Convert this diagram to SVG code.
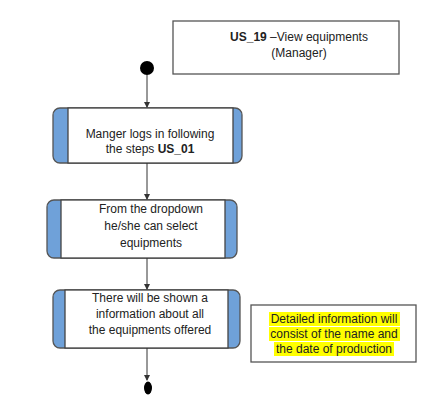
<svg xmlns="http://www.w3.org/2000/svg" width="439" height="411" viewBox="0 0 439 411">
<defs>
<style>
.t{font-family:"Liberation Sans",Arial,sans-serif;font-size:12px;fill:#222;text-anchor:middle}
.b{font-weight:bold}
.frame{fill:#fff;stroke:#555;stroke-width:1.3}
.side{fill:#6fa1d9;stroke:#555;stroke-width:1.3}
.inner{fill:#fff;stroke:#444;stroke-width:1.3}
.c{stroke:#333;stroke-width:1;fill:none}
.hl{fill:#ffff00}
</style>
<marker id="ah" markerWidth="6" markerHeight="6" refX="5" refY="3" orient="auto" markerUnits="userSpaceOnUse">
<path d="M0,0 L6,3 L0,6 z" fill="#333"/>
</marker>
</defs>
<rect width="439" height="411" fill="#fff"/>
<g id="title">
<rect class="frame" x="173" y="21" width="226" height="53"/>
<text class="t" x="299" y="41"><tspan class="b">US_19</tspan> –View equipments</text>
<text class="t" x="299" y="57">(Manager)</text>
</g>
<g id="start"><circle cx="147" cy="68" r="7" fill="#000"/></g>
<g id="step1">
<rect class="side" x="53" y="108" width="189" height="55" rx="7"/>
<rect class="inner" x="68" y="108" width="165" height="55"/>
<text class="t" x="150" y="138">Manger logs in following</text>
<text class="t" x="150" y="153">the steps <tspan class="b">US_01</tspan></text>
</g>
<g id="step2">
<rect class="side" x="47" y="200" width="190" height="58" rx="7"/>
<rect class="inner" x="61" y="200" width="164" height="58"/>
<text class="t" x="151" y="213">From the dropdown</text>
<text class="t" x="151" y="230">he/she can select</text>
<text class="t" x="151" y="247">equipments</text>
</g>
<g id="step3">
<rect class="side" x="53" y="290" width="187" height="58" rx="7"/>
<rect class="inner" x="65" y="290" width="163" height="58"/>
<text class="t" x="150" y="302">There will be shown a</text>
<text class="t" x="150" y="318">information about all</text>
<text class="t" x="150" y="334">the equipments offered</text>
</g>
<g id="note">
<rect class="frame" x="251" y="305" width="165" height="57"/>
<rect class="hl" x="269" y="312" width="131" height="14"/>
<rect class="hl" x="269" y="327" width="131" height="14"/>
<rect class="hl" x="274" y="342" width="120" height="14"/>
<text class="t" x="334" y="323">Detailed information will</text>
<text class="t" x="334" y="338">consist of the name  and</text>
<text class="t" x="334" y="353">the date of production</text>
</g>
<g id="end"><ellipse cx="148" cy="388" rx="4" ry="6.5" fill="#000"/></g>
<g id="connectors">
<line class="c" x1="147" y1="75" x2="147" y2="107" marker-end="url(#ah)"/>
<line class="c" x1="147" y1="163" x2="147" y2="199" marker-end="url(#ah)"/>
<line class="c" x1="147" y1="258" x2="147" y2="289" marker-end="url(#ah)"/>
<line class="c" x1="147" y1="348" x2="147" y2="380" marker-end="url(#ah)"/>
</g>
</svg>
